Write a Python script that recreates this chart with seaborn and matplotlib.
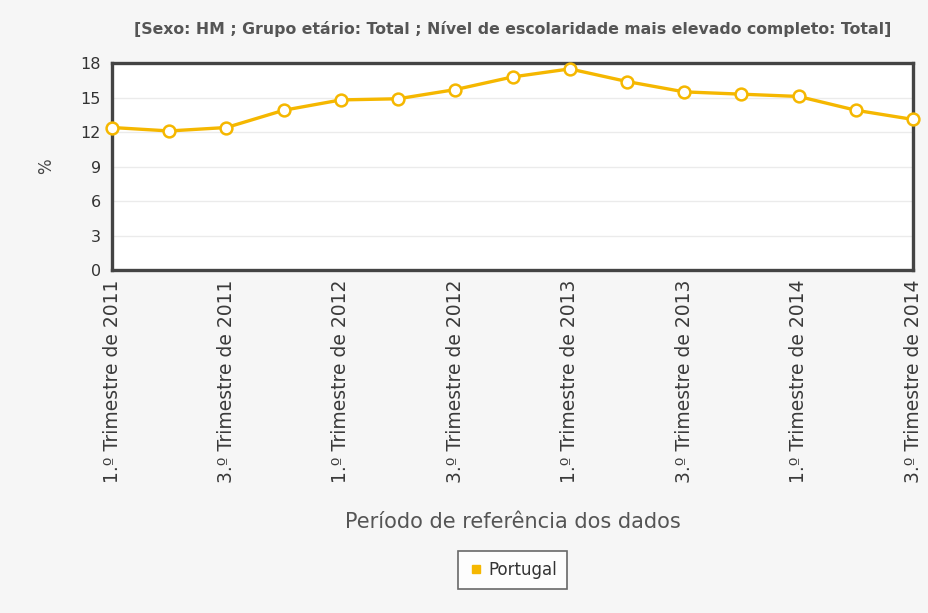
import pandas as pd
import matplotlib.pyplot as plt
import seaborn as sns
from matplotlib.lines import Line2D

# dados (taxa de desemprego, %)
periodos = ["1.º Trimestre de 2011", "2.º Trimestre de 2011", "3.º Trimestre de 2011", "4.º Trimestre de 2011",
            "1.º Trimestre de 2012", "2.º Trimestre de 2012", "3.º Trimestre de 2012", "4.º Trimestre de 2012",
            "1.º Trimestre de 2013", "2.º Trimestre de 2013", "3.º Trimestre de 2013", "4.º Trimestre de 2013",
            "1.º Trimestre de 2014", "2.º Trimestre de 2014", "3.º Trimestre de 2014"]
valores = [12.4, 12.1, 12.4, 13.9, 14.8, 14.9, 15.7, 16.8, 17.5, 16.4, 15.5, 15.3, 15.1, 13.9, 13.1]
yticks = [0, 3, 6, 9, 12, 15, 18]

df = pd.DataFrame({"pos": range(len(periodos)), "valor": valores})

sns.set_style("white")
plt.rcParams['font.family'] = ['DejaVu Sans']

cor = '#f5b700'
fig = plt.figure(figsize=(9.29, 6.13), dpi=100, facecolor='#f6f6f6')
ax = fig.add_axes([0.1206, 0.5595, 0.8623, 0.3375])
ax.set_facecolor('white')

sns.lineplot(data=df, x="pos", y="valor", ax=ax, color=cor, linewidth=2.4,
             marker='o', markersize=8.5, markerfacecolor='white',
             markeredgecolor=cor, markeredgewidth=1.8, clip_on=False, zorder=5)

ax.set_xlim(0, len(periodos) - 1)
ax.set_ylim(0, 18)
ax.set_yticks(yticks)
ax.set_yticklabels([str(t) for t in yticks], fontsize=11.5, color='#333333')
ax.set_xticks(range(0, len(periodos), 2))
ax.set_xticklabels(periodos[::2], rotation=90, fontsize=13.5, color='#3a3a3a')
ax.tick_params(axis='y', length=0, pad=8)
ax.tick_params(axis='x', length=0, pad=7)
ax.grid(axis='y', color='#ebebeb', linewidth=1)
ax.set_axisbelow(True)
for s in ax.spines.values():
    s.set_color('#444444')
    s.set_linewidth(2.4)

ax.set_xlabel("Período de referência dos dados", fontsize=15, color='#555555', labelpad=21)
ax.set_ylabel("%", fontsize=12, color='#444444', labelpad=18)

fig.text(0.552, 0.953, "[Sexo: HM ; Grupo etário: Total ; Nível de escolaridade mais elevado completo: Total]",
         ha='center', va='center', fontsize=11.3, fontweight='bold', color='#555555')

handle = Line2D([], [], linestyle='none', marker='s', markersize=6, color=cor)
leg = fig.legend([handle], ["Portugal"], loc='center', bbox_to_anchor=(0.552, 0.07),
                 fontsize=12, frameon=True, fancybox=False, handletextpad=0.3,
                 handlelength=0.9, borderpad=0.6)
leg.get_frame().set_edgecolor('#444444')
leg.get_frame().set_linewidth(1.2)
for t in leg.get_texts():
    t.set_color('#333333')

fig.savefig("out.png", dpi=100, facecolor=fig.get_facecolor())
